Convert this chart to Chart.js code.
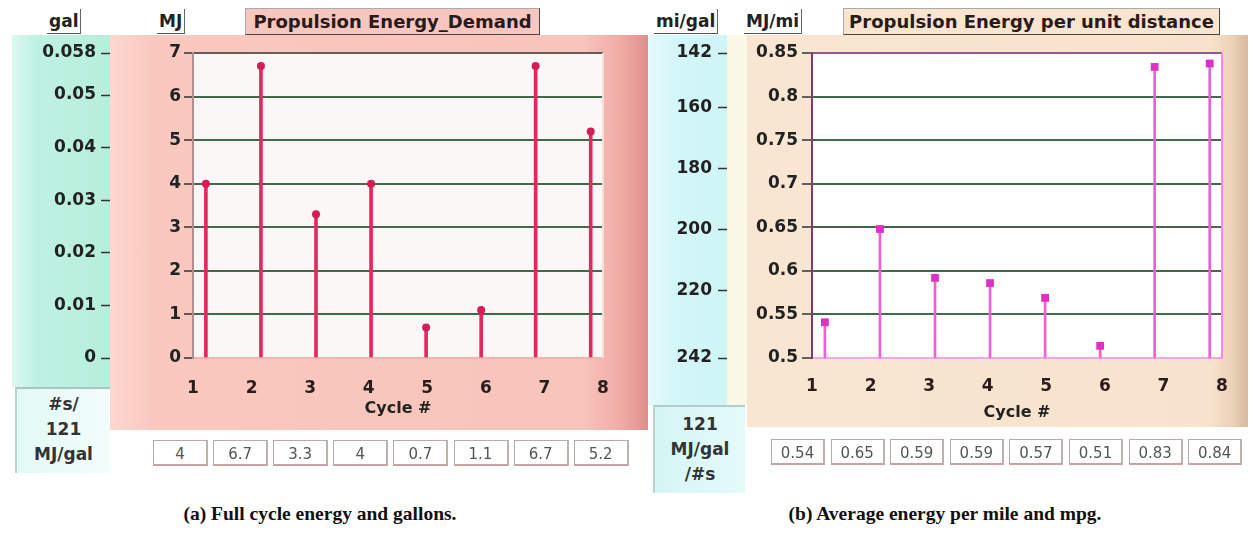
<!DOCTYPE html>
<html>
<head>
<meta charset="utf-8">
<script src="https://cdn.jsdelivr.net/npm/chart.js@4.4.0/dist/chart.umd.min.js"></script>
<style>
body { margin: 0; width: 1254px; height: 533px; background: #fff; position: relative; overflow: hidden; font-family: 'DejaVu Sans', sans-serif; }
.abs { position: absolute; }
.unit { position: absolute; top: 9px; height: 24px; line-height: 24px; font-weight: bold; font-size: 17px; color: #222;
        border-bottom: 1px solid #555; border-right: 1px solid #666; padding: 0 2px; }
.title { position: absolute; top: 8px; height: 25px; line-height: 25px; font-weight: bold; font-size: 18px; color: #2a1a1a; text-align: center;
         border: 1px solid #aaa; border-right-color: #444; border-bottom-color: #444; }
.vbox { position: absolute; height: 26px; line-height: 26px; text-align: center; font-size: 15px; color: #555; background: #fff;
        border: 1px solid #b9a9a9; border-bottom: 2px solid #c9a3a3; border-right: 2px solid #bfb0b0; box-sizing: border-box; }
.ubox { position: absolute; text-align: center; font-weight: bold; font-size: 17px; color: #333; line-height: 25px; box-sizing: border-box; }
.caption { position: absolute; top: 503px; font-family: 'Liberation Serif', serif; font-weight: bold; font-size: 19.5px; color: #111; text-align: center; width: 500px; }
canvas { position: absolute; top: 0; }
</style>
</head>
<body>
<!-- left panel backgrounds -->
<div class="abs" style="left:12px;top:35px;width:98px;height:352px;background:linear-gradient(90deg,#dbf8f0 0%,#bff1e2 25%,#b6eedc 100%);"></div>
<div class="abs" style="left:110px;top:35px;width:538px;height:395px;background:linear-gradient(90deg,#fcd8d0 0%,#f9c8bf 8%,#f8c4bb 88%,#efaba5 95%,#dd8f8c 100%);"></div>
<div class="ubox" style="left:15px;top:387px;width:95px;height:86px;padding-top:3px;background:linear-gradient(90deg,#e2faf4,#f3fdfb);border-top:2px solid #a8c6bd;border-left:2px solid #b9d2cb;">#s/<br>121<br>MJ/gal</div>

<!-- right panel backgrounds -->
<div class="abs" style="left:648px;top:35px;width:79px;height:370px;background:linear-gradient(90deg,#e6fafa 0%,#d3f6f8 35%,#cff5f7 100%);"></div>
<div class="abs" style="left:727px;top:35px;width:20px;height:370px;background:#fcf8e7;"></div>
<div class="abs" style="left:747px;top:35px;width:501px;height:392px;background:linear-gradient(90deg,#f8e6d3 0%,#f7e3cd 92%,#ebd1b7 97%,#d6b99f 100%);"></div>
<div class="ubox" style="left:653px;top:405px;width:92px;height:88px;padding-top:5px;background:linear-gradient(90deg,#d4f5f4,#e4fbfa);border-top:2px solid #b4cccc;border-left:2px solid #bcd2d2;">121<br>MJ/gal<br>/#s</div>

<!-- unit labels and titles -->
<div class="unit" style="left:47px;">gal</div>
<div class="unit" style="left:157px;">MJ</div>
<div class="title" style="left:245px;width:293px;background:#f7c6be;">Propulsion Energy_Demand</div>
<div class="unit" style="left:654px;">mi/gal</div>
<div class="unit" style="left:744px;">MJ/mi</div>
<div class="title" style="left:843px;width:375px;background:#f8e4cf;">Propulsion Energy per unit distance</div>

<canvas id="energyChart" width="640" height="440" style="left:0;width:640px;height:440px;"></canvas>
<canvas id="perMileChart" width="614" height="440" style="left:640px;width:614px;height:440px;"></canvas>

<div id="energyBoxes"></div>
<div id="perMileBoxes"></div>

<div class="caption" style="left:70px;">(a) Full cycle energy and gallons.</div>
<div class="caption" style="left:695px;">(b) Average energy per mile and mpg.</div>

<script>
// cycle positions as drawn (the stems sit a bit off the integer ticks)
const cycleLabels = ['1', '2', '3', '4', '5', '6', '7', '8'];
const cycleTicks = [1, 2, 3, 4, 5, 6, 7, 8];
const cycleX = [1.22, 2.16, 3.1, 4.04, 4.98, 5.92, 6.85, 7.79];

// (a) full cycle energy, MJ
const energyMJ = [4, 6.7, 3.3, 4, 0.7, 1.1, 6.7, 5.2];
const mjTicks = [0, 1, 2, 3, 4, 5, 6, 7];
const galTicks = [0, 0.01, 0.02, 0.03, 0.04, 0.05, 0.058];

// (b) average energy per mile, MJ/mi
const energyPerMile = [0.541, 0.648, 0.592, 0.586, 0.569, 0.514, 0.834, 0.838];
const mjPerMiTicks = [0.5, 0.55, 0.6, 0.65, 0.7, 0.75, 0.8, 0.85];
const mpgTicks = [142, 160, 180, 200, 220, 242];

Chart.defaults.font.family = "'DejaVu Sans', sans-serif";
Chart.defaults.animation = false;

const tickFont = { size: 17, weight: 'bold' };
const gridGreen = '#3f6b4b';

// plot area background + right edge
const plotFrame = {
    id: 'plotFrame',
    beforeDraw(chart, args, opts) {
        const { ctx, chartArea: a } = chart;
        ctx.save();
        ctx.fillStyle = opts.background;
        ctx.fillRect(a.left, a.top, a.width, a.height);
        ctx.restore();
    },
    afterDatasetsDraw(chart, args, opts) {
        const { ctx, chartArea: a } = chart;
        ctx.save();
        ctx.strokeStyle = opts.rightColor;
        ctx.lineWidth = 2;
        ctx.beginPath();
        ctx.moveTo(a.right, a.top);
        ctx.lineTo(a.right, a.bottom);
        ctx.stroke();
        ctx.restore();
    }
};

function setTicks(values) {
    return scale => { scale.ticks = values.map(v => ({ value: v })); };
}

function xAxis(height, pad, borderColor) {
    return {
        type: 'linear', min: 1, max: 8, offset: false,
        afterBuildTicks: setTicks(cycleTicks),
        afterFit: s => { s.height = height; },
        grid: { display: false, drawTicks: false, offset: false },
        border: { color: borderColor, width: 2 },
        ticks: {
            padding: pad, color: '#2b1c1c', font: tickFont, maxRotation: 0, autoSkip: false,
            callback: (v, i) => cycleLabels[i]
        },
        title: { display: true, text: 'Cycle #', padding: 0, color: '#222', font: { size: 16, weight: 'bold' } }
    };
}

function makeStemChart(id, cfg) {
    const ctx = document.getElementById(id).getContext('2d');
    return new Chart(ctx, {
        type: 'bar',
        data: {
            datasets: [
                {
                    type: 'scatter', order: 0,
                    data: cfg.values.map((v, i) => ({ x: cycleX[i], y: v })),
                    pointStyle: cfg.pointStyle, pointRadius: cfg.pointRadius,
                    backgroundColor: cfg.markerColor, borderColor: cfg.markerColor, borderWidth: 0,
                    yAxisID: 'y'
                },
                {
                    type: 'bar', order: 1,
                    data: cfg.values.map((v, i) => ({ x: cycleX[i], y: v })),
                    barThickness: cfg.stemWidth,
                    backgroundColor: cfg.stemColor,
                    yAxisID: 'y'
                }
            ]
        },
        options: {
            responsive: false,
            layout: { padding: cfg.padding },
            plugins: {
                legend: { display: false },
                tooltip: { enabled: false },
                plotFrame: { background: cfg.plotBg, rightColor: cfg.rightColor }
            },
            scales: cfg.scales
        },
        plugins: [plotFrame]
    });
}

makeStemChart('energyChart', {
    values: energyMJ,
    pointStyle: 'circle', pointRadius: 4, markerColor: '#d51c54',
    stemWidth: 3, stemColor: '#e2285f',
    plotBg: '#fcf7f7', rightColor: '#f6dede',
    padding: { left: 12, top: 53, right: 37, bottom: 22 },
    scales: {
        x: xAxis(60, 20, '#f1b4b1'),
        y: {
            position: 'left', weight: 0, min: 0, max: 7,
            afterBuildTicks: setTicks(mjTicks),
            afterFit: s => { s.width = 83; },
            grid: {
                color: c => c.tick.value === 7 ? '#6a5a5a' : (c.tick.value === 0 ? 'rgba(0,0,0,0)' : gridGreen),
                lineWidth: 2, tickColor: '#333', tickLength: 9, tickWidth: 1.5
            },
            border: { color: '#b48e8e', width: 2 },
            ticks: { padding: 3, color: '#222', font: tickFont }
        },
        gal: {
            position: 'left', weight: 1, min: 0, max: 0.058,
            afterBuildTicks: setTicks(galTicks),
            afterFit: s => { s.width = 98; },
            grid: { drawOnChartArea: false, tickColor: '#333', tickLength: 9, tickWidth: 1.5 },
            border: { display: false },
            ticks: { padding: 5, color: '#222', font: tickFont, callback: v => String(+v.toFixed(3)) }
        }
    }
});

makeStemChart('perMileChart', {
    values: energyPerMile,
    pointStyle: 'rect', pointRadius: 5.5, markerColor: '#e02fc6',
    stemWidth: 2, stemColor: '#f060d4',
    plotBg: '#ffffff', rightColor: '#f48de0',
    padding: { left: 8, top: 53, right: 32, bottom: 18 },
    scales: {
        x: xAxis(64, 18, '#f3a6e4'),
        y: {
            position: 'left', weight: 0, min: 0.5, max: 0.85,
            afterBuildTicks: setTicks(mjPerMiTicks),
            afterFit: s => { s.width = 85; },
            grid: {
                color: c => c.tick.value >= 0.85 ? '#9a5590' : (c.tick.value <= 0.5 ? 'rgba(0,0,0,0)' : gridGreen),
                lineWidth: 2, tickColor: '#333', tickLength: 10, tickWidth: 1.5
            },
            border: { color: '#7d3b72', width: 2 },
            ticks: { padding: 4, color: '#222', font: tickFont, callback: v => String(+v.toFixed(2)) }
        },
        mpg: {
            position: 'left', weight: 1, min: 142, max: 242, reverse: true,
            afterBuildTicks: setTicks(mpgTicks),
            afterFit: s => { s.width = 79; },
            grid: { drawOnChartArea: false, tickColor: '#333', tickLength: 9, tickWidth: 1.5 },
            border: { display: false },
            ticks: { padding: 6, color: '#222', font: tickFont }
        }
    }
});

// readout boxes under each plot
function addBoxes(containerId, values, left, step, top, width, fmt) {
    const box = document.getElementById(containerId);
    values.forEach((v, i) => {
        const d = document.createElement('div');
        d.className = 'vbox';
        d.style.left = (left + i * step) + 'px';
        d.style.top = top + 'px';
        d.style.width = width + 'px';
        d.textContent = fmt(v);
        box.appendChild(d);
    });
}
addBoxes('energyBoxes', energyMJ, 153, 60.1, 440, 55, v => String(v));
addBoxes('perMileBoxes', energyPerMile, 771, 59.6, 439, 54, v => v.toFixed(2));
</script>
</body>
</html>
